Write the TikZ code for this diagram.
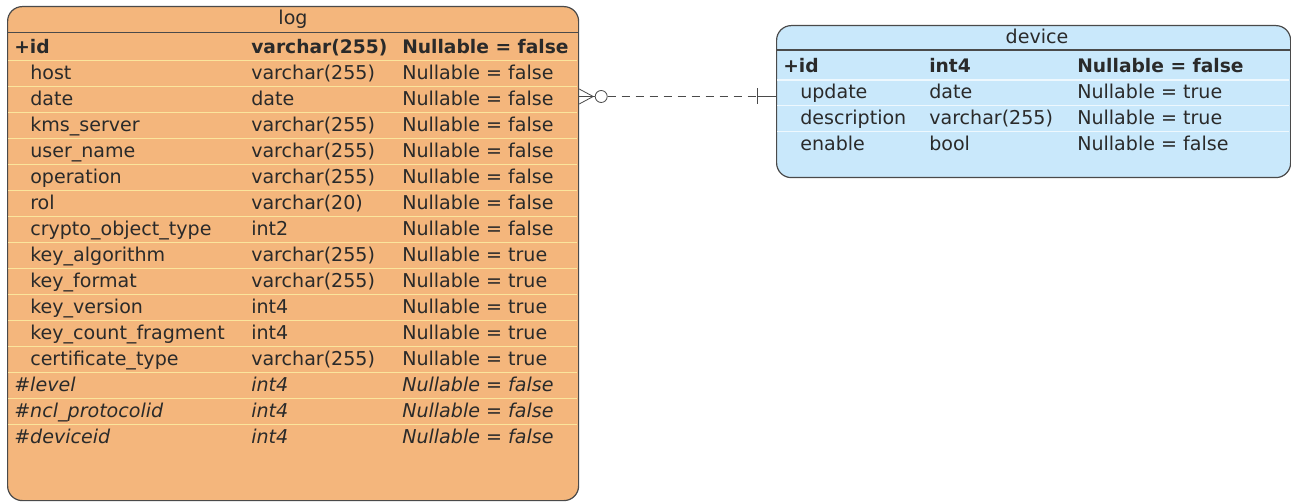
\documentclass[tikz,border=0pt]{standalone}
\usepackage{fontspec}
\setmainfont{DejaVu Sans}
\usetikzlibrary{positioning}
\definecolor{logFill}{HTML}{F4B67C}
\definecolor{logRule}{HTML}{FBE59C}
\definecolor{devFill}{HTML}{C9E8FB}
\definecolor{devRule}{HTML}{EEF8FE}
\definecolor{tableFrame}{HTML}{4A4A4A}
\definecolor{tableInk}{HTML}{2A2A2A}

\begin{document}
\begin{tikzpicture}[
    x=0.75pt, y=-0.75pt,
    table/.style={
        rectangle,
        rounded corners=11pt,
        draw=tableFrame,
        line width=0.9pt,
        inner sep=0pt,
        anchor=north west
    },
    cell/.style={
        anchor=west,
        inner sep=0pt,
        text height=11pt,
        text depth=2pt,
        font=\fontsize{14.3}{16}\selectfont,
        text=tableInk
    },
    keycell/.style={cell, font=\fontsize{14}{16}\selectfont\bfseries},
    fkcell/.style={cell, font=\fontsize{14.3}{16}\selectfont\itshape},
    headline/.style={draw=tableFrame, line width=0.9pt},
    ringmark/.style={circle, draw=tableFrame, fill=white, line width=0.6pt,
        minimum size=9pt, inner sep=0pt},
    link/.style={draw=tableFrame, line width=0.6pt}
]
\useasboundingbox (0,0) rectangle (1291,502);

% Tables
\node[table, fill=logFill, minimum width=428.25pt, minimum height=370.5pt] (log) at (7,6) {};
\node[table, fill=devFill, minimum width=385.5pt, minimum height=114pt] (device) at (776,25) {};

% Row rules
\foreach \k in {0,...,14}
    \draw[logRule, line width=1.4pt] (8,{60.5+26*\k}) -- (577,{60.5+26*\k});
\foreach \k in {0,...,2}
    \draw[devRule, line width=1.2pt] (777,{80+25.7*\k}) -- (1289,{80+25.7*\k});

% Header lines
\draw[headline] (log.west |- 0,32.5) -- (log.east |- 0,32.5);
\draw[headline] (device.west |- 0,50) -- (device.east |- 0,50);

% log table
\node[cell, anchor=center] (loghead) at (293,19) {log};
\node[keycell] (logid) at (14,47.5) {+id};
\node[keycell] at (251,47.5) {varchar(255)};
\node[keycell] at (402,47.5) {Nullable = false};
\foreach \colname/\coltype/\colnull [count=\i] in {
    host/varchar(255)/false,
    date/date/false,
    kms\_server/varchar(255)/false,
    user\_name/varchar(255)/false,
    operation/varchar(255)/false,
    rol/varchar(20)/false,
    crypto\_object\_type/int2/false,
    key\_algorithm/varchar(255)/true,
    key\_format/varchar(255)/true,
    key\_version/int4/true,
    key\_count\_fragment/int4/true,
    certificate\_type/varchar(255)/true}
{
    \node[cell] at (30,{47.5+26*\i}) {\colname};
    \node[cell] at (251,{47.5+26*\i}) {\coltype};
    \node[cell] at (402,{47.5+26*\i}) {Nullable = \colnull};
}
\foreach \colname [count=\i from 13] in {level, ncl\_protocolid, deviceid}
{
    \node[fkcell] at (14,{47.5+26*\i}) {\#\colname};
    \node[fkcell] at (251,{47.5+26*\i}) {int4};
    \node[fkcell] at (402,{47.5+26*\i}) {Nullable = false};
}

% device table
\node[cell, anchor=center] (devhead) at (1037,38) {device};
\node[keycell] (devid) at (783,67) {+id};
\node[keycell] at (929,67) {int4};
\node[keycell] at (1077,67) {Nullable = false};
\foreach \colname/\coltype/\colnull [count=\i] in {
    update/date/true,
    description/varchar(255)/true,
    enable/bool/false}
{
    \node[cell] at (800,{67+25.7*\i}) {\colname};
    \node[cell] at (929,{67+25.7*\i}) {\coltype};
    \node[cell] at (1077,{67+25.7*\i}) {Nullable = \colnull};
}

% Relation: many (log) to one (device)
\coordinate (logport) at (log.east |- 0,96.5);
\coordinate (devport) at (device.west |- 0,96.5);
\coordinate (tick) at ([xshift=-14.25pt]devport);
\node[ringmark] (ring) at ([xshift=16.5pt]logport) {};

\draw[link] (logport) ++(0,-7.5) -- ++(14,7.5) -- ++(-14,7.5);
\draw[link] (logport) -- (ring.west);
\draw[link, dash pattern=on 6pt off 4.5pt] (ring.east) -- (tick);
\draw[link] (tick) -- (devport);
\draw[link] (tick) ++(0,-8) -- ++(0,16);

\end{tikzpicture}
\end{document}
